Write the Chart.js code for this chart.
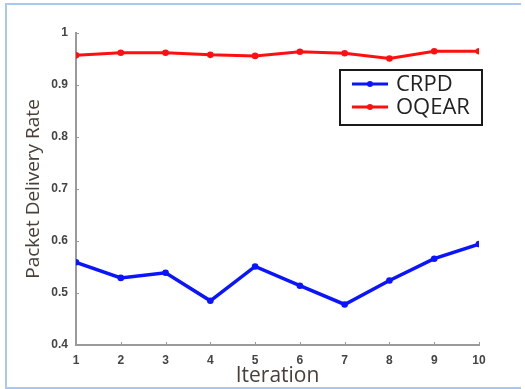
<!DOCTYPE html>
<html>
<head>
<meta charset="utf-8">
<script src="https://cdn.jsdelivr.net/npm/chart.js@4/dist/chart.umd.min.js"></script>
<style>
  html, body { margin: 0; padding: 0; background: #fff; }
  #wrap { position: relative; width: 525px; height: 389px; }
  #frame { position: absolute; left: 5px; top: 3px; width: 514px; height: 382px;
           border: 2px solid #a9c8ec; border-right: none; pointer-events: none; }
  canvas { position: absolute; left: 0; top: 0; }
</style>
</head>
<body>
<div id="wrap">
  <canvas id="c" width="525" height="389"></canvas>
  <div id="frame"></div>
</div>
<script>
// Iterations on the x axis
const iterations = [1, 2, 3, 4, 5, 6, 7, 8, 9, 10];
// Packet delivery rate per iteration
const crpd  = [0.559, 0.529, 0.539, 0.485, 0.551, 0.514, 0.478, 0.524, 0.566, 0.594];
const oqear = [0.957, 0.962, 0.962, 0.958, 0.956, 0.964, 0.961, 0.951, 0.965, 0.965];
// Y axis ticks
const yTicks = [0.4, 0.5, 0.6, 0.7, 0.8, 0.9, 1];

const textFamily = '"Open Sans", Lato, sans-serif';
const tickFont = { family: 'Liberation Sans, Arial, sans-serif', size: 12, weight: 'bold' };
const titleColor = '#4a4038';
const axisColor = '#9a9a9a';

// Short inward tick marks on both axes
const innerTicks = {
  id: 'innerTicks',
  afterDraw(chart) {
    const { ctx, scales: { x, y }, chartArea: a } = chart;
    ctx.save();
    ctx.strokeStyle = axisColor;
    ctx.lineWidth = 1;
    iterations.forEach(v => {
      const px = Math.round(x.getPixelForValue(v)) + 0.5;
      ctx.beginPath(); ctx.moveTo(px, a.bottom); ctx.lineTo(px, a.bottom - 3); ctx.stroke();
    });
    yTicks.forEach(v => {
      const py = Math.round(y.getPixelForValue(v)) + 0.5;
      ctx.beginPath(); ctx.moveTo(a.left, py); ctx.lineTo(a.left + 3, py); ctx.stroke();
    });
    ctx.restore();
  }
};

// Boxed legend in the upper right of the plot
const boxLegend = {
  id: 'boxLegend',
  afterDraw(chart) {
    const { ctx, chartArea: a } = chart;
    const left = a.right - 139, top = a.top + 37, w = 142, h = 55;
    ctx.save();
    ctx.fillStyle = '#fff';
    ctx.fillRect(left, top, w, h);
    ctx.strokeStyle = '#1a1a1a';
    ctx.lineWidth = 2;
    ctx.strokeRect(left, top, w, h);
    chart.data.datasets.forEach((ds, i) => {
      const cy = top + 14 + i * 23;
      ctx.strokeStyle = ds.borderColor;
      ctx.lineWidth = 3;
      ctx.beginPath(); ctx.moveTo(left + 12, cy); ctx.lineTo(left + 48, cy); ctx.stroke();
      ctx.fillStyle = ds.borderColor;
      ctx.beginPath(); ctx.arc(left + 30, cy, 3, 0, Math.PI * 2); ctx.fill();
      ctx.fillStyle = '#222';
      ctx.font = '22px ' + textFamily;
      ctx.textBaseline = 'middle';
      ctx.fillText(ds.label, left + 56, cy + 1);
    });
    ctx.restore();
  }
};

new Chart(document.getElementById('c'), {
  type: 'line',
  data: {
    labels: iterations,
    datasets: [
      { label: 'CRPD', data: crpd, borderColor: '#0a14ff', backgroundColor: '#0a14ff',
        borderWidth: 3.5, pointRadius: 3.3, pointBorderWidth: 0, pointHoverRadius: 3.3, tension: 0 },
      { label: 'OQEAR', data: oqear, borderColor: '#ff1010', backgroundColor: '#ff1010',
        borderWidth: 3, pointRadius: 3.3, pointBorderWidth: 0, pointHoverRadius: 3.3, tension: 0 }
    ]
  },
  options: {
    responsive: false,
    animation: false,
    events: [],
    layout: { padding: { left: 0, top: 33, right: 46, bottom: 0 } },
    plugins: { legend: { display: false }, tooltip: { enabled: false } },
    scales: {
      x: {
        type: 'linear', min: 1, max: 10,
        afterFit(s) { s.height = 44; },
        afterBuildTicks(s) { s.ticks = iterations.map(v => ({ value: v })); },
        grid: { display: false, drawTicks: false },
        border: { display: true, color: axisColor, width: 2 },
        ticks: { font: tickFont, color: '#444', padding: 8, maxRotation: 0 },
        title: { display: true, text: 'Iteration', color: titleColor,
                 font: { family: textFamily, size: 21 }, padding: { top: 0, bottom: 0 } }
      },
      y: {
        min: 0.4, max: 1,
        afterFit(s) { s.width = 76; },
        afterBuildTicks(s) { s.ticks = yTicks.map(v => ({ value: v })); },
        grid: { display: false, drawTicks: false },
        border: { display: true, color: axisColor, width: 2 },
        ticks: { font: tickFont, color: '#444', padding: 8,
                 callback: v => (v === 1 ? '1' : v.toFixed(1)) },
        title: { display: true, text: 'Packet Delivery Rate', color: titleColor,
                 font: { family: textFamily, size: 19 }, padding: { top: 22, bottom: 0 } }
      }
    }
  },
  plugins: [innerTicks, boxLegend]
});
</script>
</body>
</html>
